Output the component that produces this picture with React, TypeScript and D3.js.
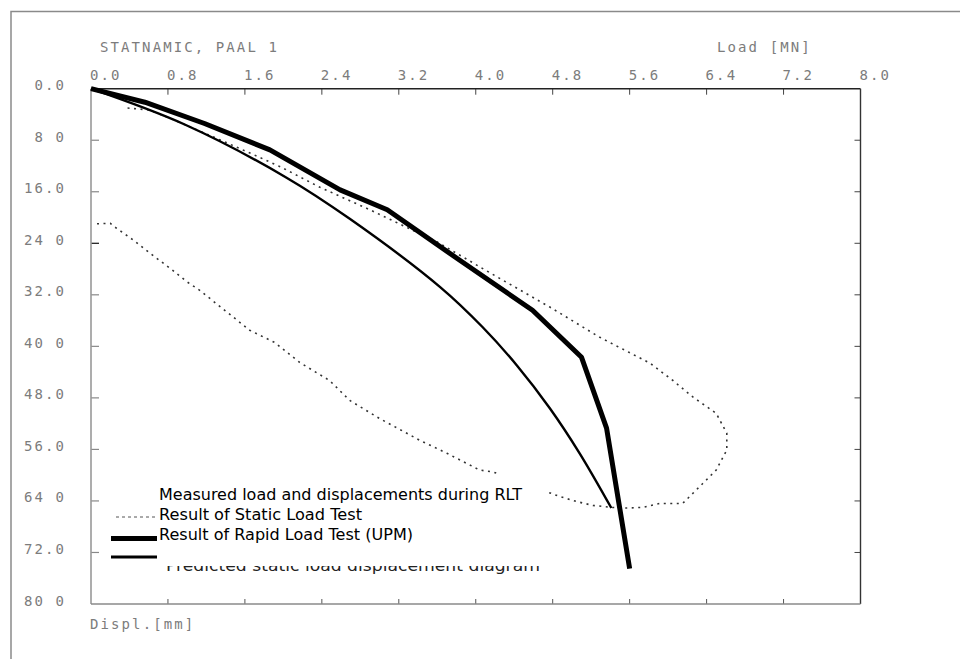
import React from "react";
import * as d3 from "d3";

// ---- Axis ticks ----
const xTicks = [0, 0.8, 1.6, 2.4, 3.2, 4.0, 4.8, 5.6, 6.4, 7.2, 8.0];
const xTickLabels = ["0.0", "0.8", "1.6", "2.4", "3.2", "4.0", "4.8", "5.6", "6.4", "7.2", "8.0"];
const yTicks = [0, 8, 16, 24, 32, 40, 48, 56, 64, 72, 80];
const yTickLabels = ["0.0", "8 0", "16.0", "24 0", "32.0", "40 0", "48.0", "56.0", "64 0", "72.0", "80 0"];

// ---- Result of Rapid Load Test (UPM) : load [MN], displacement [mm] ----
const upmLoad = [0, 0.56, 1.18, 1.86, 2.59, 3.08, 3.83, 4.59, 5.1, 5.36, 5.6];
const upmDispl = [0, 2.1, 5.4, 9.5, 15.7, 18.8, 26.6, 34.4, 41.7, 52.7, 74.5];

// ---- Predicted static load displacement diagram ----
const predLoad = [0, 0.98, 2.02, 2.69, 3.63, 4.07, 4.43, 4.77, 5.08, 5.41];
const predDispl = [0, 5.6, 13.7, 20.2, 30.8, 37.0, 43.0, 49.6, 56.6, 65.1];

// ---- Measured load and displacements during RLT (loading + unloading) ----
const rltLoad = [
  0.38, 0.61, 0.87, 1.32, 1.67, 1.98, 2.38, 2.9, 3.6, 4.15, 4.77, 5.29, 5.81, 6.05, 6.26, 6.5,
  6.61, 6.61, 6.5, 6.36, 6.15, 5.91, 5.74, 5.57, 5.42, 5.22, 5.05, 4.87, 4.18, 4.04, 3.7, 3.42,
  3.0, 2.69, 2.48, 2.17, 1.91, 1.65, 1.39, 1.13, 1.0, 0.85, 0.61, 0.44, 0.25, 0.2, 0.02,
];
const rltDispl = [
  3.0, 3.3, 4.9, 7.8, 10.1, 12.2, 15.3, 18.8, 23.8, 28.6, 33.9, 38.6, 42.6, 45.3, 47.9, 50.4,
  53.5, 56.1, 59.2, 61.3, 64.4, 64.4, 65.0, 65.1, 65.0, 64.7, 64.1, 63.3, 59.5, 59.2, 56.6, 54.6,
  51.2, 48.4, 45.3, 42.5, 39.4, 37.5, 34.4, 31.3, 30.0, 28.2, 25.5, 23.5, 21.5, 20.9, 21.0,
];

// ---- Texts ----
const title = "STATNAMIC, PAAL 1";
const xTitle = "Load [MN]";
const yTitle = "Displ.[mm]";
const legendLabels = [
  "Measured load and displacements during RLT",
  "Result of Static Load Test",
  "Result of Rapid Load Test (UPM)",
  "Predicted static load displacement diagram",
];

const W = 960;
const H = 659;
const left = 91;
const right = 860.5;
const top = 88.7;
const bottom = 604;

const monoFont = "'DejaVu Sans Mono', monospace";
const sansFont = "'DejaVu Sans', Verdana, sans-serif";
const axisGray = "#7c7c7c";

export default function App() {
  const x = d3.scaleLinear().domain([0, 8]).range([left, right]);
  const y = d3.scaleLinear().domain([0, 80]).range([top, bottom]);

  const toPts = (ls: number[], ds: number[]) => ls.map((l, i) => [l, ds[i]] as [number, number]);

  const lineLin = d3
    .line<[number, number]>()
    .x((d) => x(d[0]))
    .y((d) => y(d[1]))
    .curve(d3.curveLinear);
  const lineSmooth = d3
    .line<[number, number]>()
    .x((d) => x(d[0]))
    .y((d) => y(d[1]))
    .curve(d3.curveCatmullRom.alpha(0.5));

  const upmPath = lineLin(toPts(upmLoad, upmDispl)) || "";
  const predPath = lineSmooth(toPts(predLoad, predDispl)) || "";
  const rltPath = lineLin(toPts(rltLoad, rltDispl)) || "";

  const ls = 2.1;
  const tickTextStyle: React.CSSProperties = {
    fontFamily: monoFont,
    fontSize: 14,
    letterSpacing: `${ls}px`,
    fill: axisGray,
  };

  return (
    <svg
      width={W}
      height={H}
      viewBox={`0 0 ${W} ${H}`}
      style={{ position: "absolute", left: 0, top: 0, background: "#fff", display: "block" }}
    >
      <rect x={0} y={0} width={W} height={H} fill="#fff" />
      {/* outer frame */}
      <rect x={11} y={11.5} width={1000} height={700} fill="none" stroke="#8a8a8a" strokeWidth={1.5} />

      {/* titles */}
      <text x={100} y={52} style={tickTextStyle}>{title}</text>
      <text x={717} y={52} style={tickTextStyle}>{xTitle}</text>
      <text x={90} y={629} style={tickTextStyle}>{yTitle}</text>

      {/* x tick labels */}
      {xTicks.map((t, i) => (
        <text key={"xl" + i} x={x(t) - 1} y={80} style={tickTextStyle}>
          {xTickLabels[i]}
        </text>
      ))}
      {/* y tick labels */}
      {yTicks.map((t, i) => (
        <text key={"yl" + i} x={64 + ls} y={y(t) + 1.5} textAnchor="end" style={tickTextStyle}>
          {yTickLabels[i]}
        </text>
      ))}

      {/* ticks */}
      {xTicks.slice(1, -1).map((t, i) => (
        <g key={"xt" + i}>
          <line x1={x(t)} x2={x(t)} y1={top} y2={top + 6} stroke="#444" strokeWidth={1} />
          <line x1={x(t)} x2={x(t)} y1={bottom} y2={bottom - 5} stroke="#555" strokeWidth={1} />
        </g>
      ))}
      {yTicks.slice(1, -1).map((t, i) => (
        <g key={"yt" + i}>
          <line x1={left} x2={left + 8} y1={y(t)} y2={y(t)} stroke={i === 2 ? "#111" : "#888"} strokeWidth={1.2} />
          <line x1={right} x2={right - 6} y1={y(t)} y2={y(t)} stroke="#444" strokeWidth={1} />
        </g>
      ))}

      {/* plot frame */}
      <line x1={left} x2={right} y1={top} y2={top} stroke="#222" strokeWidth={1.4} />
      <line x1={left} x2={left} y1={top} y2={bottom} stroke="#999" strokeWidth={1.6} />
      <line x1={right} x2={right} y1={top} y2={bottom} stroke="#333" strokeWidth={1.4} />
      <line x1={left} x2={right} y1={bottom} y2={bottom} stroke="#8a8a8a" strokeWidth={1.6} />

      {/* data */}
      <path d={rltPath} fill="none" stroke="#333" strokeWidth={1.6} strokeDasharray="2,4.5" />
      <path d={predPath} fill="none" stroke="#000" strokeWidth={2.4} strokeLinejoin="round" />
      <path d={upmPath} fill="none" stroke="#000" strokeWidth={5} strokeLinejoin="round" />

      {/* predicted text partly covered by the legend box */}
      <text x={166} y={571} style={{ fontFamily: sansFont, fontSize: 15, fill: "#222" }} textLength={374} lengthAdjust="spacingAndGlyphs">
        {legendLabels[3]}
      </text>
      <rect x={105} y={474} width={444} height={92} fill="#fff" />

      {/* legend */}
      <text x={159} y={500} style={{ fontFamily: sansFont, fontSize: 15, fill: "#000" }} textLength={363} lengthAdjust="spacingAndGlyphs">
        {legendLabels[0]}
      </text>
      <line x1={116} x2={158} y1={517} y2={517} stroke="#555" strokeWidth={1} strokeDasharray="3,3" />
      <text x={159} y={520} style={{ fontFamily: sansFont, fontSize: 15, fill: "#000" }} textLength={203} lengthAdjust="spacingAndGlyphs">
        {legendLabels[1]}
      </text>
      <line x1={111} x2={157} y1={538.5} y2={538.5} stroke="#000" strokeWidth={5} />
      <text x={159} y={539.5} style={{ fontFamily: sansFont, fontSize: 15, fill: "#000" }} textLength={254} lengthAdjust="spacingAndGlyphs">
        {legendLabels[2]}
      </text>
      <line x1={111} x2={157} y1={557} y2={557} stroke="#000" strokeWidth={3} />
    </svg>
  );
}
